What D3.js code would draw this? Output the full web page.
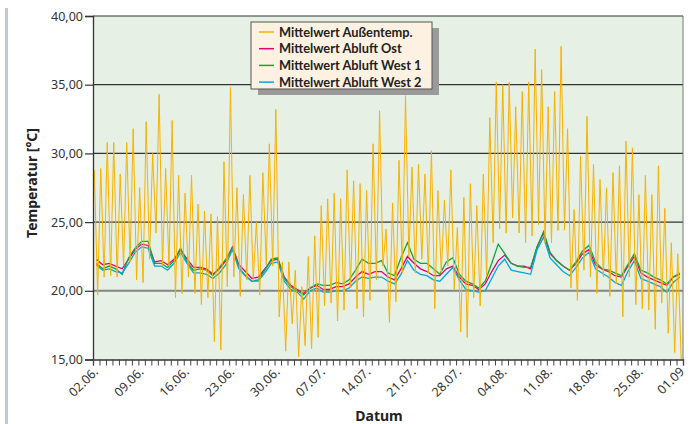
<!DOCTYPE html>
<html>
<head>
<meta charset="utf-8">
<script src="https://cdn.jsdelivr.net/npm/d3@7"></script>
<style>
  body { margin: 0; background: #fff; }
  svg { display: block; font-family: "Noto Sans", sans-serif; }
</style>
</head>
<body>
<div id="chart"></div>
<script>
// tick labels
var dayLabels = ["02.06.", "09.06.", "16.06.", "23.06.", "30.06.", "07.07.", "14.07.",
                 "21.07.", "28.07.", "04.08.", "11.08.", "18.08.", "25.08.", "01.09"];
var yTicks = [15, 20, 25, 30, 35, 40];
var yTickLabels = ["15,00", "20,00", "25,00", "30,00", "35,00", "40,00"];

// Mittelwert Außentemp.: daily maximum and minimum (day 0 = 02.06.)
var outsideMax = [28.8, 28.9, 30.8, 30.8, 28.5, 30.8, 31.8, 27.5, 32.3, 30.0,
                  34.3, 28.9, 32.4, 28.4, 27.1, 28.4, 26.3, 25.8, 25.6, 25.4,
                  29.4, 34.8, 27.5, 27.0, 28.4, 25.0, 28.6, 30.7, 33.2, 22.1,
                  22.1, 21.5, 20.3, 22.5, 24.0, 26.2, 26.7, 27.1, 26.7, 28.8,
                  28.0, 27.8, 27.3, 30.7, 33.1, 24.5, 26.4, 29.5, 34.2, 29.0,
                  29.2, 28.5, 30.2, 27.3, 26.6, 28.8, 24.6, 26.8, 27.8, 26.2,
                  28.5, 32.6, 35.2, 35.0, 35.2, 33.4, 34.5, 35.2, 37.6, 36.1,
                  33.4, 34.5, 37.8, 31.8, 25.9, 29.8, 32.7, 29.2, 28.1, 27.5,
                  28.6, 29.1, 30.9, 30.4, 27.0, 28.4, 27.0, 29.1, 26.0, 23.5,
                  22.7];
var outsideMin = [19.7, 21.0, 21.1, 21.0, 21.8, 22.1, 20.8, 20.6, 22.3, 24.2,
                  21.8, 21.8, 19.5, 19.8, 21.0, 19.8, 19.0, 19.5, 16.3, 15.7,
                  20.3, 21.0, 19.6, 20.8, 20.7, 19.7, 21.9, 21.8, 18.1, 15.6,
                  17.6, 15.2, 16.0, 15.8, 16.6, 18.9, 19.1, 17.8, 18.6, 20.3,
                  18.7, 18.1, 19.3, 20.8, 21.8, 17.7, 19.2, 21.3, 22.5, 21.3,
                  22.3, 21.3, 18.7, 21.3, 21.8, 20.1, 17.0, 16.6, 19.5, 18.9,
                  21.0, 23.5, 24.5, 24.2, 25.3, 24.2, 23.5, 24.0, 24.8, 23.5,
                  23.5, 24.4, 24.4, 20.2, 19.3, 21.5, 21.0, 19.8, 21.0, 19.6,
                  20.5, 18.1, 21.0, 19.0, 18.7, 18.6, 17.2, 19.1, 16.9, 15.5,
                  15.0];

// exhaust air, daily values
var abluftOst = [22.3, 21.9, 22.0, 21.8, 21.6, 22.3, 23.0, 23.4, 23.3, 22.1,
                 22.2, 21.9, 22.3, 23.0, 22.3, 21.7, 21.7, 21.6, 21.2, 21.6,
                 22.2, 23.2, 21.9, 21.4, 20.9, 21.0, 21.6, 22.2, 22.3, 21.0,
                 20.4, 20.1, 19.8, 20.2, 20.4, 20.1, 20.1, 20.3, 20.3, 20.5,
                 21.0, 21.4, 21.2, 21.4, 21.4, 21.0, 20.8, 21.6, 22.5, 22.0,
                 21.6, 21.4, 21.1, 21.1, 21.6, 21.8, 21.0, 20.5, 20.4, 20.1,
                 20.5, 21.4, 22.2, 22.6, 22.0, 21.8, 21.8, 21.6, 23.2, 24.2,
                 22.7, 22.2, 21.8, 21.5, 22.0, 22.7, 23.0, 21.9, 21.6, 21.4,
                 21.1, 21.0, 21.8, 22.5, 21.3, 21.0, 20.8, 20.6, 20.4, 21.0,
                 21.2];
var abluftWest1 = [22.0, 21.6, 21.8, 21.6, 21.2, 22.4, 23.1, 23.6, 23.6, 22.0,
                   22.0, 21.7, 22.2, 23.1, 22.1, 21.5, 21.6, 21.5, 21.1, 21.7,
                   22.3, 23.1, 21.7, 21.1, 20.7, 20.8, 21.5, 22.3, 22.4, 20.9,
                   20.3, 20.0, 19.7, 20.2, 20.5, 20.4, 20.4, 20.6, 20.5, 20.8,
                   21.5, 22.3, 22.0, 22.0, 22.2, 21.3, 21.1, 22.4, 23.5, 22.3,
                   22.0, 22.0, 21.6, 21.2, 22.1, 22.4, 21.2, 20.7, 20.5, 20.2,
                   20.7, 22.0, 23.4, 22.7, 22.0, 21.8, 21.7, 21.7, 23.2, 24.3,
                   22.8, 22.2, 21.8, 21.5, 22.1, 22.9, 23.3, 22.1, 21.6, 21.5,
                   21.3, 21.1, 21.9, 22.7, 21.5, 21.3, 21.0, 20.8, 20.5, 21.0,
                   21.3];
var abluftWest2 = [21.9, 21.5, 21.6, 21.4, 21.3, 22.0, 22.8, 23.2, 23.1, 21.8,
                   21.8, 21.5, 22.0, 22.8, 22.0, 21.3, 21.3, 21.2, 20.9, 21.3,
                   21.9, 23.0, 21.6, 21.1, 20.7, 20.7, 21.3, 22.0, 22.1, 20.7,
                   20.1, 19.9, 19.4, 20.0, 20.2, 19.9, 19.9, 20.0, 20.0, 20.2,
                   20.7, 21.0, 20.9, 21.0, 21.0, 20.7, 20.5, 21.2, 22.2, 21.5,
                   21.2, 21.1, 20.8, 20.7, 21.2, 21.7, 20.8, 20.1, 20.0, 19.9,
                   20.0, 20.9, 21.8, 22.3, 21.5, 21.4, 21.3, 21.2, 23.0, 23.9,
                   22.4, 21.9, 21.4, 21.1, 21.7, 22.4, 22.8, 21.6, 21.3, 21.0,
                   20.6, 20.4, 21.4, 22.2, 20.9, 20.7, 20.5, 20.3, 19.9, 20.6,
                   21.0];

var legendNames = ["Mittelwert Außentemp.", "Mittelwert Abluft Ost",
                   "Mittelwert Abluft West 1", "Mittelwert Abluft West 2"];
var colors = ["#f7b200", "#e4007c", "#12a33a", "#00a6e2"];

var width = 690, height = 424;
var plot = {left: 93, right: 683, top: 16, bottom: 359.5};

var svg = d3.select("#chart").append("svg")
    .attr("width", width)
    .attr("height", height);

svg.append("rect").attr("width", width).attr("height", height).attr("fill", "#fff");

// grey bar on the left
svg.append("line")
    .attr("x1", 6.5).attr("x2", 6.5).attr("y1", 8).attr("y2", height)
    .attr("stroke", "#bccbd4").attr("stroke-width", 3);

var x = d3.scaleLinear().domain([0, 91]).range([plot.left, plot.right]);
var y = d3.scaleLinear().domain([15, 40]).range([plot.bottom, plot.top]);

svg.append("rect")
    .attr("x", plot.left).attr("y", plot.top)
    .attr("width", plot.right - plot.left).attr("height", plot.bottom - plot.top)
    .attr("fill", "#e6f0e5");

// grid lines
svg.selectAll(".grid")
  .data(yTicks.filter(function(d) { return d > 15; }))
  .enter().append("line")
    .attr("x1", plot.left).attr("x2", plot.right)
    .attr("y1", function(d) { return y(d); })
    .attr("y2", function(d) { return y(d); })
    .attr("stroke", function(d) { return d == 20 ? "#858585" : "#333"; })
    .attr("stroke-width", function(d) { return d == 20 ? 2 : 1.2; });

// right frame
svg.append("line")
    .attr("x1", plot.right).attr("x2", plot.right)
    .attr("y1", plot.top).attr("y2", plot.bottom)
    .attr("stroke", "#777").attr("stroke-width", 1);

// series
var outside = [];
for (var i = 0; i < outsideMax.length; i++) {
  outside.push([i + 0.2, outsideMax[i]]);
  outside.push([i + 0.72, outsideMin[i]]);
}
function daily(arr) {
  return arr.map(function(v, i) { return [i + 0.5, v]; });
}
var line = d3.line()
    .x(function(d) { return x(d[0]); })
    .y(function(d) { return y(d[1]); });

var series = [daily(abluftOst), daily(abluftWest1), daily(abluftWest2)];
series.forEach(function(s, k) {
  svg.append("path")
    .attr("d", line(s))
    .attr("fill", "none")
    .attr("stroke", colors[k + 1])
    .attr("stroke-width", 1.3);
});
svg.append("path")
    .attr("d", line(outside))
    .attr("fill", "none")
    .attr("stroke", colors[0])
    .attr("stroke-width", 1)
    .attr("stroke-linejoin", "round");

// y axis
var yAxis = svg.append("g")
    .attr("transform", "translate(" + plot.left + ",0)")
    .call(d3.axisLeft(y).tickValues(yTicks).tickSize(8).tickPadding(2)
      .tickFormat(function(d, i) { return yTickLabels[i]; }));
yAxis.select(".domain").attr("stroke", "#333").attr("stroke-width", 1.3);
yAxis.selectAll(".tick line").attr("stroke", "#333").attr("stroke-width", 1.2);
yAxis.selectAll(".tick text")
    .attr("fill", "#333").style("font-size", "12.5px")
    .style("font-family", "'Noto Sans', sans-serif");

// x axis with a tick for each day
var xAxis = svg.append("g")
    .attr("transform", "translate(0," + plot.bottom + ")")
    .call(d3.axisBottom(x).tickValues(d3.range(0, 92)).tickSize(6).tickFormat(""));
xAxis.select(".domain").attr("stroke", "#333").attr("stroke-width", 1.3);
xAxis.selectAll(".tick line").attr("stroke", "#444").attr("stroke-width", 1);

svg.selectAll(".xlabel")
  .data(dayLabels)
  .enter().append("text")
    .attr("transform", function(d, i) {
      var px = Math.min(x(i * 7) + 6, width - 5);
      return "translate(" + px + "," + (plot.bottom + 13) + ") rotate(-45)";
    })
    .attr("text-anchor", "end")
    .attr("fill", "#333")
    .style("font-size", "12.5px")
    .text(function(d) { return d; });

// axis titles
svg.append("text")
    .attr("x", 379).attr("y", 421)
    .attr("text-anchor", "middle")
    .attr("fill", "#222")
    .style("font-size", "14px").style("font-weight", "bold")
    .text("Datum");
svg.append("text")
    .attr("transform", "translate(37,183) rotate(-90)")
    .attr("text-anchor", "middle")
    .attr("fill", "#222")
    .style("font-size", "14px").style("font-weight", "bold")
    .text("Temperatur [°C]");

// legend
var lg = {x: 251, y: 22, w: 181, h: 67};
svg.append("rect")
    .attr("x", lg.x + 7).attr("y", lg.y + 6)
    .attr("width", lg.w).attr("height", lg.h)
    .attr("fill", "#9a9a9a");
svg.append("rect")
    .attr("x", lg.x).attr("y", lg.y)
    .attr("width", lg.w).attr("height", lg.h)
    .attr("fill", "#fdf2e2").attr("stroke", "#555").attr("stroke-width", 1);
var items = svg.selectAll(".legend")
  .data(legendNames)
  .enter().append("g")
    .attr("transform", function(d, i) { return "translate(" + lg.x + "," + (lg.y + 10 + i * 16.7) + ")"; });
items.append("line")
    .attr("x1", 8).attr("x2", 23)
    .attr("stroke", function(d, i) { return colors[i]; })
    .attr("stroke-width", 1.5);
items.append("text")
    .attr("x", 28).attr("y", 4.5)
    .attr("fill", "#222")
    .style("font-family", "Lato, sans-serif")
    .style("font-size", "12.8px").style("font-weight", "bold")
    .text(function(d) { return d; });
</script>
</body>
</html>
